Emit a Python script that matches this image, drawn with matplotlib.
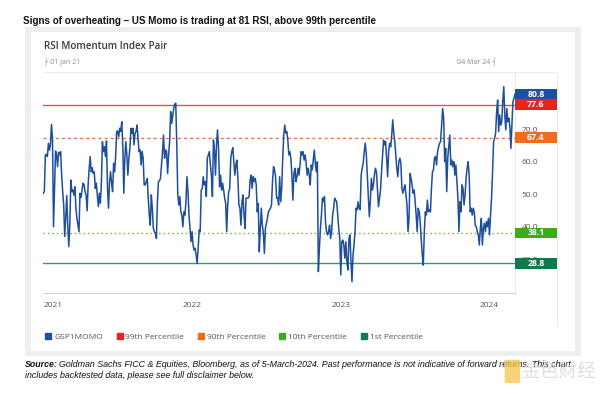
import matplotlib
matplotlib.use("Agg")
import matplotlib.pyplot as plt
import matplotlib.transforms as mtransforms
from matplotlib.patches import Rectangle, FancyBboxPatch
from matplotlib.lines import Line2D
import pandas as pd

# RSI of the US momentum pair (Jan 2021 -> 4 Mar 2024)
rsi = [
    50.3, 50.8, 62.1, 62.3, 61.6, 65.7, 63.6, 65.2, 71.5, 67.2,
    40.0, 51.8, 63.3, 62.1, 58.5, 62.9, 62.1, 63.1, 55.9, 50.8,
    46.7, 37.0, 42.6, 49.6, 40.5, 33.9, 40.5, 54.4, 50.8, 51.3,
    49.8, 52.3, 45.7, 42.6, 40.5, 38.5, 50.3, 49.0, 51.3, 53.4,
    52.9, 50.8, 49.8, 44.9, 52.9, 58.0, 61.6, 56.9, 58.2, 56.4,
    56.9, 51.8, 53.4, 49.8, 46.2, 50.3, 47.2, 53.4, 66.2, 63.1,
    64.6, 61.6, 66.4, 51.8, 45.7, 53.9, 56.9, 53.4, 50.8, 59.5,
    56.9, 61.6, 69.3, 69.5, 67.7, 70.3,
    69.3, 72.3, 65.2, 50.3, 61.1, 66.2, 62.1, 55.9, 61.1, 64.1,
    70.3, 68.8, 70.3, 65.2, 68.8, 69.3, 71.3, 67.2, 63.1, 63.6,
    59.0, 63.1, 61.1, 52.9, 52.9, 53.9, 54.9, 48.8, 43.6, 40.5,
    49.8, 45.7, 39.5, 38.5, 38.0, 36.4, 47.7, 53.9, 54.1, 54.9,
    59.0, 63.1, 68.2, 61.1, 63.6, 63.1, 56.4, 62.1, 66.2, 75.4,
    71.8, 73.9, 76.4, 77.7, 78.0, 65.2, 49.8, 46.7, 49.3, 44.6,
    43.6, 40.0, 44.6, 43.6, 47.7, 55.4, 50.8, 43.6, 39.5, 35.4,
    38.5, 34.4, 32.9, 33.4, 31.3,
    28.7, 33.4, 39.0, 38.5, 51.3, 51.8, 55.4, 52.9, 53.9, 49.3,
    61.1, 62.1, 63.1, 59.0, 55.9, 49.3, 66.7, 63.6, 55.9, 65.2,
    69.8, 64.1, 52.3, 55.9, 51.3, 53.4, 51.3, 48.8, 47.2, 38.5,
    46.7, 50.8, 51.8, 61.1, 63.1, 64.3, 60.0, 55.9, 59.0, 60.5,
    54.9, 46.7, 45.7, 40.5, 47.7, 49.8, 43.6, 39.5, 48.8, 48.8,
    48.8, 49.3, 54.4, 55.9, 51.8, 55.4, 53.9, 54.9, 52.9, 44.6,
    47.2, 32.3, 39.5, 45.7, 40.5, 38.0, 31.8, 39.5, 41.1, 42.6,
    44.6, 45.2, 45.7, 46.7, 53.9, 58.5, 57.5, 55.4, 48.8,
    48.8, 46.7, 55.4, 47.7, 51.8, 61.1, 68.2, 71.3, 68.8, 69.3,
    66.7, 62.1, 63.1, 61.1, 55.9, 48.2, 56.4, 58.0, 53.9, 55.4,
    58.0, 55.9, 59.0, 63.1, 62.1, 63.1, 60.5, 62.1, 59.5, 55.9,
    58.0, 55.9, 52.9, 59.0, 57.5, 60.5, 63.6, 59.5, 56.9, 60.0,
    26.2, 33.4, 39.5, 43.6, 48.8, 47.7, 49.3, 41.6, 38.5, 37.5,
    38.5, 40.5, 36.4, 38.5, 43.6, 45.7, 48.8, 48.2, 47.7, 43.6,
    39.5, 36.4, 25.2, 35.4, 35.9, 34.4, 30.3, 35.4, 29.3, 26.7,
    36.4, 37.5, 29.3, 23.1, 31.3, 34.4, 38.5, 45.7, 45.2, 47.7,
    45.7, 45.2, 55.9, 58.0, 59.5, 63.1, 65.7, 62.6, 55.9, 49.8,
    43.1, 47.7, 54.9, 51.3, 52.9, 55.9, 58.0, 56.9, 51.8, 46.2,
    48.8, 51.3, 56.9, 61.6, 66.7, 65.2, 66.2, 61.1, 55.4, 63.1,
    65.7, 64.6, 68.2, 72.9, 68.8, 66.2, 62.1, 58.0, 55.4, 60.0,
    61.1, 59.5, 51.8, 50.3, 51.8, 52.9, 49.8, 46.7, 38.5, 42.6,
    56.4, 54.9, 52.9, 50.3, 51.3, 47.7, 43.6, 38.5, 45.7, 44.6,
    41.6, 35.9, 31.3, 28.2, 38.5, 44.6, 43.6, 48.2, 44.6, 45.2,
    44.6, 51.8, 56.9, 57.5, 61.1, 61.6, 59.0, 63.1, 64.6, 65.7,
    66.2, 71.3, 76.4, 73.4, 60.0, 64.1, 50.8, 61.1, 64.6, 68.2,
    59.0, 60.5, 58.5, 60.0, 55.9, 59.0, 53.9, 48.8, 38.5, 47.7,
    44.6, 52.9, 51.8, 46.7, 49.8, 54.9, 58.0, 60.0, 55.9, 44.6,
    45.7, 43.6, 45.7, 44.6, 40.5, 40.0, 38.5, 37.5, 34.4, 39.5,
    42.6, 34.4, 39.5, 41.1, 38.5, 41.6, 40.0, 42.6, 37.5, 43.6,
    48.8, 56.9, 66.2, 67.2, 68.8, 75.4, 79.0, 69.3, 74.4, 71.3,
    72.3, 78.5, 83.1, 74.4, 69.8, 76.4, 72.3, 73.4, 70.8, 64.1,
    71.3, 78.5, 79.5, 80.8,
]
start_date = "2021-01-01"
end_date = "2024-03-04"
series_name = "GSP1MOMO"
series_color = "#1f4e9a"
series_box = "#1d4fa3"

level_names = ["99th Percentile", "90th Percentile", "10th Percentile", "1st Percentile"]
level_values = [77.6, 67.4, 38.1, 28.8]
level_colors = ["#e0564b", "#e8743b", "#8cb33e", "#2a9d73"]
level_styles = ["-", (0, (2.2, 2.2)), (0, (1.2, 2.0)), "-"]
box_colors = ["#e8251b", "#f26a1b", "#3daa1f", "#0f7a4d"]

year_labels = ["2021", "2022", "2023", "2024"]
y_ticks = [30, 40, 50, 60, 70]

plt.rcParams["font.family"] = ["Open Sans", "DejaVu Sans"]

fig = plt.figure(figsize=(6, 3.94), dpi=100)
fig.patch.set_facecolor("white")

# card background
fig.add_artist(Rectangle((0.0417, 0.0964), 0.9267, 0.835, transform=fig.transFigure,
                         facecolor="#eceef0", edgecolor="none", zorder=-20))
fig.add_artist(Rectangle((0.0517, 0.109), 0.9067, 0.8096, transform=fig.transFigure,
                         facecolor="white", edgecolor="none", zorder=-19))
# faint plot frame
fig.add_artist(Line2D([0.072, 0.928], [0.817, 0.817], transform=fig.transFigure,
                      color="#ececec", lw=0.8, zorder=-18))
fig.add_artist(Line2D([0.928, 0.928], [0.817, 0.175], transform=fig.transFigure,
                      color="#ececec", lw=0.8, zorder=-18))
fig.add_artist(Line2D([0.858, 0.858], [0.817, 0.258], transform=fig.transFigure,
                      color="#ececec", lw=0.8, zorder=-18))

ax = fig.add_axes([0.0722, 0.2574, 0.7861, 0.5606])
ax.patch.set_visible(False)

dates = pd.date_range(start_date, end_date, periods=len(rsi))

for val, col, ls in zip(level_values, level_colors, level_styles):
    ax.axhline(val, color=col, lw=1.0, linestyle=ls, zorder=2)

ax.plot(dates, rsi, color=series_color, lw=1.1, zorder=3)

ax.set_xlim(dates[0], dates[-1])
ax.set_ylim(19.75, 87.7)

for side in ["top", "left", "right"]:
    ax.spines[side].set_visible(False)
ax.spines["bottom"].set_color("#cfd3d8")
ax.spines["bottom"].set_linewidth(0.8)

ax.yaxis.tick_right()
ax.set_yticks(y_ticks)
ax.set_yticklabels([f"{t:.1f}" for t in y_ticks])
ax.tick_params(axis="y", length=0, pad=5, labelsize=6, labelcolor="#555555")

ax.set_xticks([pd.Timestamp(f"{y}-01-01") for y in year_labels])
ax.set_xticklabels(year_labels)
ax.tick_params(axis="x", length=0, pad=7, labelsize=6, labelcolor="#555555")
ax.get_xticklabels()[0].set_horizontalalignment("left")

# value boxes on the right panel
trans = mtransforms.blended_transform_factory(ax.transAxes, ax.transData)
box_vals = [rsi[-1]] + level_values
box_cols = [series_box] + box_colors
for val, col in zip(box_vals, box_cols):
    ax.add_patch(Rectangle((1.0, val - 1.65), 0.089, 3.3, transform=trans,
                           facecolor=col, edgecolor="none", clip_on=False, zorder=5))
    ax.text(1.0445, val, f"{val:.1f}", transform=trans, ha="center", va="center",
            color="white", fontsize=6.3, fontweight="bold", zorder=6, clip_on=False)

# titles
fig.text(0.038, 0.947, "Signs of overheating \u2013 US Momo is trading at 81 RSI, above 99th percentile",
         fontsize=7.1, fontweight="bold", color="#111111", va="center",
         family=["Liberation Sans", "DejaVu Sans"])
fig.text(0.073, 0.882, "RSI Momentum Index Pair", fontsize=7.1, fontweight="semibold",
         color="#3a3a3a", va="center")
fig.text(0.073, 0.843, "\u251c 01 Jan 21", fontsize=5, color="#8a8a8a", va="center")
fig.text(0.827, 0.843, "04 Mar 24 \u2524", fontsize=5, color="#8a8a8a", va="center", ha="right")

# legend
handles = [Line2D([], [], marker="s", ls="", markersize=4.5, color=series_box, label=series_name)]
for name, col in zip(level_names, box_colors):
    handles.append(Line2D([], [], marker="s", ls="", markersize=4.5, color=col, label=name))
leg = fig.legend(handles=handles, loc="center left", bbox_to_anchor=(0.068, 0.144), ncol=5,
                 frameon=False, fontsize=6, handletextpad=0.2, columnspacing=1.5,
                 handlelength=1.0, borderaxespad=0)
for t in leg.get_texts():
    t.set_color("#555555")

# source note
src_family = ["Liberation Sans", "DejaVu Sans"]
s1 = fig.text(0.041, 0.076, "Source:", fontsize=6.4, fontstyle="italic", fontweight="bold",
              color="#111111", va="center", family=src_family)
fig.canvas.draw()
bb = s1.get_window_extent(renderer=fig.canvas.get_renderer())
fig.text(bb.x1 / fig.bbox.width + 0.003, 0.076,
         "Goldman Sachs FICC & Equities, Bloomberg, as of 5-March-2024. Past performance is not "
         "indicative of forward returns. This chart",
         fontsize=6.4, fontstyle="italic", color="#111111", va="center", family=src_family)
fig.text(0.041, 0.046, "includes backtested data, please see full disclaimer below.",
         fontsize=6.4, fontstyle="italic", color="#111111", va="center", family=src_family)

# watermark
fig.add_artist(FancyBboxPatch((0.843, 0.030), 0.022, 0.055, boxstyle="round,pad=0.002",
                              transform=fig.transFigure, facecolor="#f3c54a", edgecolor="none",
                              alpha=0.75, zorder=10))
fig.text(0.869, 0.058, "金色财经", fontsize=13.5, color="#d9d9d9", va="center", alpha=0.85,
         family=["Noto Sans CJK SC", "DejaVu Sans"], zorder=10)

fig.savefig("out.png", dpi=100)
